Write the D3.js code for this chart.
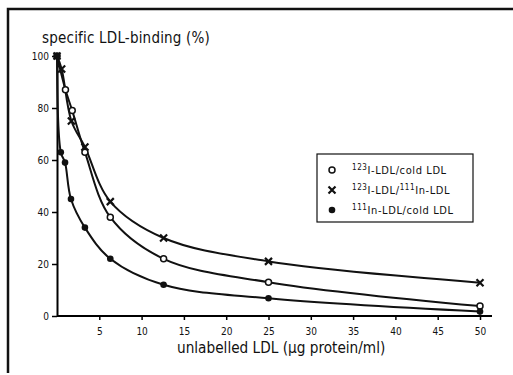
<!DOCTYPE html>
<html><head><meta charset="utf-8">
<script src="https://cdn.jsdelivr.net/npm/d3@7"></script>
<style>body{margin:0;background:#fff}svg{display:block}</style>
</head><body>
<svg id="c" width="513" height="375"></svg>
<script>
const xTicks = [5,10,15,20,25,30,35,40,45,50];
const yTicks = [0,20,40,60,80,100];
const circleX = [0,1,1.8,3.3,6.3,12.6,25,50];
const circleY = [100,87,79,63,38,22,13,3.8];
const crossX  = [0,0.55,1.7,3.3,6.3,12.6,25,50];
const crossY  = [100,95,75,65,44,30,21,12.8];
const filledX = [0,0.45,0.95,1.65,3.3,6.3,12.6,25,50];
const filledY = [100,63,59,45,34,22,12,6.8,1.7];
const legendLabels = [
  [["123","sup"],["I-LDL/cold LDL",""]],
  [["123","sup"],["I-LDL/",""],["111","sup"],["In-LDL",""]],
  [["111","sup"],["In-LDL/cold LDL",""]]
];
const yTitle = "specific LDL-binding (%)";
const xTitle = "unlabelled LDL (\u00b5g protein/ml)";

const svg = d3.select("#c");
const font = "'DejaVu Sans Condensed','DejaVu Sans',sans-serif";
const x = d3.scaleLinear().domain([0,50]).range([57,480]);
const y = d3.scaleLinear().domain([0,100]).range([316,56]);

// frame
svg.append("path").attr("d","M8,373 L8,9 L513,9").attr("fill","none").attr("stroke","#111").attr("stroke-width",2.5);

// axes
const xa = svg.append("g").attr("transform","translate(0,316)")
  .call(d3.axisBottom(x).tickValues(xTicks).tickSize(4).tickSizeOuter(0).tickFormat(d3.format("d")));
xa.select(".domain").attr("d","M57,0H492").attr("stroke-width",2);
const ya = svg.append("g").attr("transform","translate(57,0)")
  .call(d3.axisLeft(y).tickValues(yTicks).tickSize(5).tickSizeOuter(0));
ya.select(".domain").attr("stroke-width",2);
svg.selectAll(".tick line").attr("stroke-width",1.5);
svg.selectAll(".tick text").attr("font-family",font).attr("font-size",10).attr("fill","#111");
xa.selectAll(".tick text").attr("dy","1.2em");

// titles
svg.append("text").attr("x",42).attr("y",43).attr("font-family",font).attr("font-size",15).attr("letter-spacing",0.2).attr("fill","#111").text(yTitle);
svg.append("text").attr("x",177).attr("y",353).attr("font-family",font).attr("font-size",15.2).attr("fill","#111").text(xTitle);

// curves
const line = d3.line().x(d=>x(d[0])).y(d=>y(d[1])).curve(d3.curveCatmullRom.alpha(0.5));
const series = [
  {xs:circleX, ys:circleY, type:"circle"},
  {xs:crossX, ys:crossY, type:"cross"},
  {xs:filledX, ys:filledY, type:"filled"}
];
series.forEach(s=>{
  const pts = s.xs.map((v,i)=>[v,s.ys[i]]);
  svg.append("path").attr("d",line(pts)).attr("fill","none").attr("stroke","#111").attr("stroke-width",2);
});
function marker(g, type, cx, cy){
  if(type==="circle") g.append("circle").attr("cx",cx).attr("cy",cy).attr("r",3).attr("fill","#fff").attr("stroke","#111").attr("stroke-width",1.5);
  else if(type==="filled") g.append("circle").attr("cx",cx).attr("cy",cy).attr("r",3.3).attr("fill","#111");
  else g.append("path").attr("d",`M${cx-3.5},${cy-3.5}L${cx+3.5},${cy+3.5}M${cx-3.5},${cy+3.5}L${cx+3.5},${cy-3.5}`).attr("stroke","#111").attr("stroke-width",2.2);
}
const mg = svg.append("g");
series.forEach(s=>{ s.xs.forEach((v,i)=>marker(mg, s.type, x(v), y(s.ys[i]))); });

// legend
const lg = svg.append("g");
lg.append("rect").attr("x",317).attr("y",154).attr("width",156).attr("height",68).attr("fill","#fff").attr("stroke","#111").attr("stroke-width",1.2);
const rowsY = [170,190,210];
["circle","cross","filled"].forEach((t,i)=>{
  marker(lg, t, 332, rowsY[i]);
  const tx = lg.append("text").attr("x",352).attr("y",rowsY[i]+4).attr("font-family",font).attr("font-size",11).attr("letter-spacing",0.6).attr("fill","#111");
  legendLabels[i].forEach(([s,k])=>{
    if(k==="sup") tx.append("tspan").attr("font-size",8).attr("dy",-4).text(s);
    else tx.append("tspan").attr("dy",4).text(s);
  });
});
</script>
</body></html>
